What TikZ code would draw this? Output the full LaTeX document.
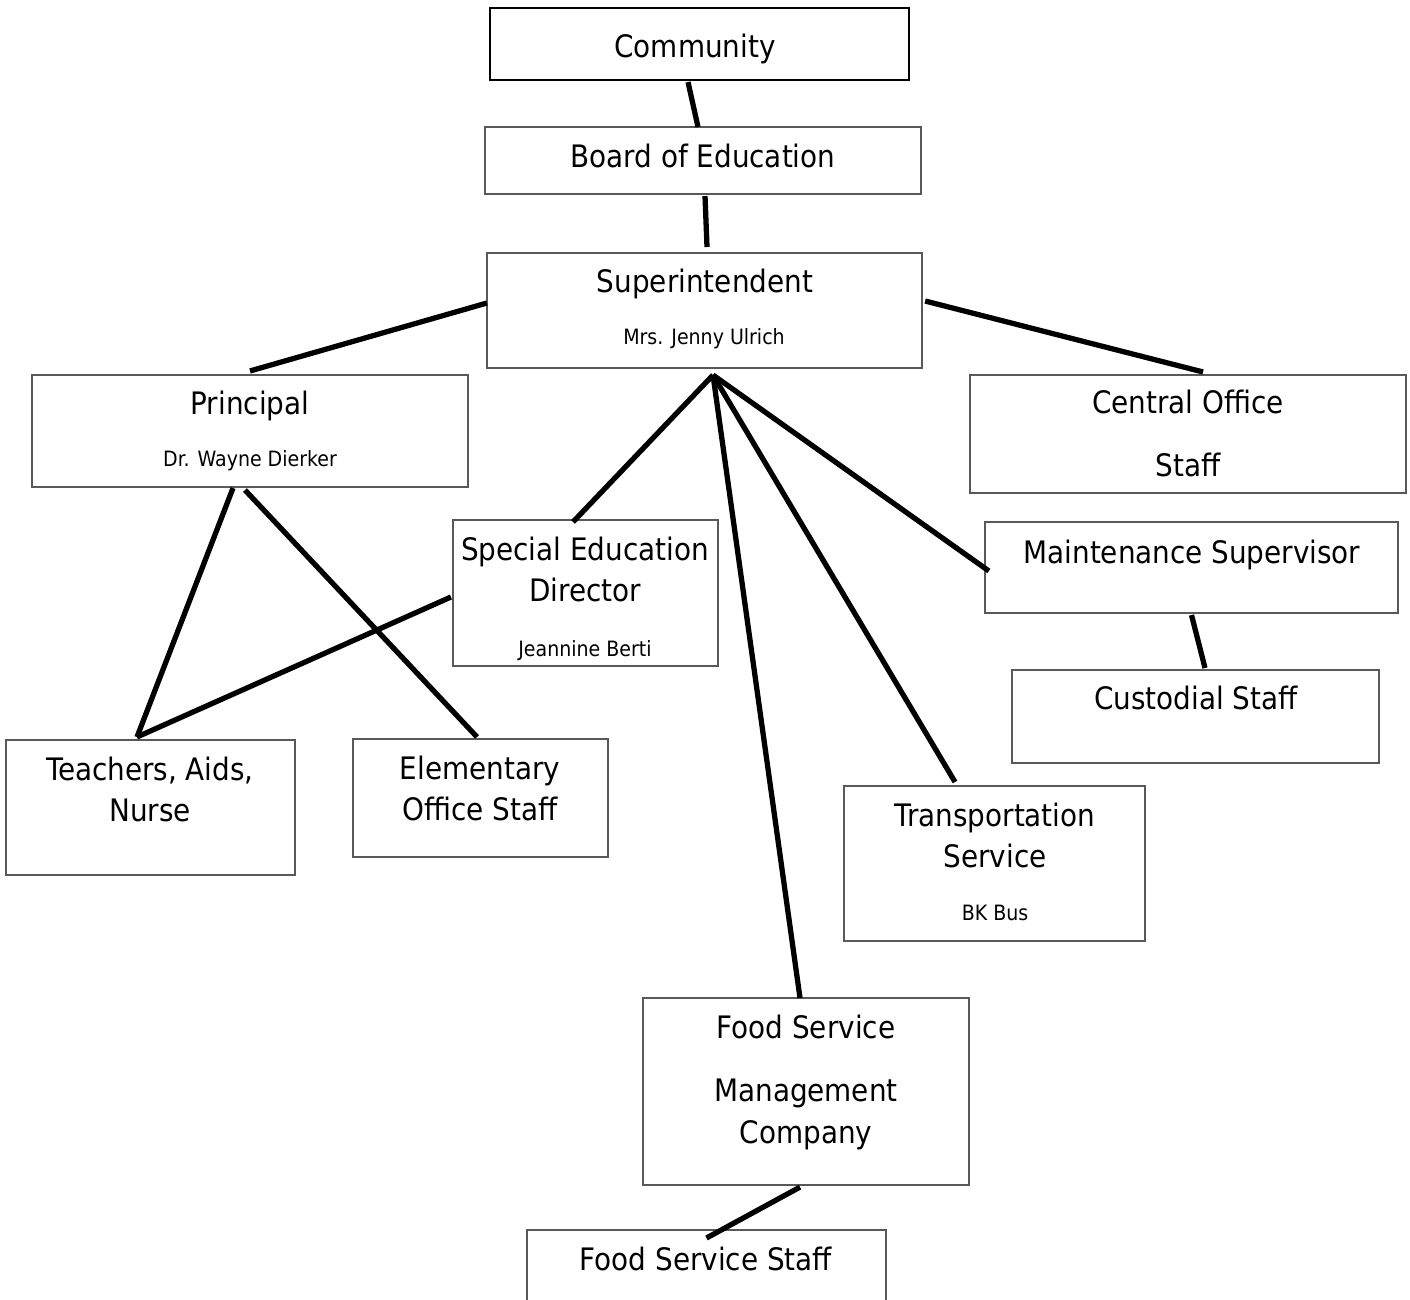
\documentclass[tikz,border=0pt]{standalone}
\usepackage{fontspec}
\setmainfont{DejaVu Sans Condensed}
\usetikzlibrary{calc}
\begin{document}
\begin{tikzpicture}[x=0.01cm,y=-0.01cm,
    box/.style={draw=black!65, line width=0.4pt, rectangle, inner sep=0pt, outer sep=0pt},
    link/.style={line width=1.5pt, line cap=butt},
    big/.style={anchor=base, inner sep=0pt, font=\fontsize{8.8}{10}\selectfont},
    small/.style={anchor=base, inner sep=0pt, font=\fontsize{6}{7}\selectfont}]
    \useasboundingbox (0,0) rectangle (1410,1299);
    % boxes
    \node [box, draw=black, line width=0.7pt, minimum width=4.19cm, minimum height=0.72cm] (comm) at (699.5,44) {};
    \node [box, minimum width=4.36cm, minimum height=0.67cm] (board) at (703,160.5) {};
    \node [box, minimum width=4.35cm, minimum height=1.15cm] (sup) at (704.5,310.5) {};
    \node [box, minimum width=4.36cm, minimum height=1.12cm] (prin) at (250,431) {};
    \node [box, minimum width=4.36cm, minimum height=1.18cm] (cos) at (1188,434) {};
    \node [box, minimum width=2.65cm, minimum height=1.46cm] (sped) at (585.5,593) {};
    \node [box, minimum width=4.13cm, minimum height=0.91cm] (maint) at (1191.5,567.5) {};
    \node [box, minimum width=3.67cm, minimum height=0.93cm] (cust) at (1195.5,716.5) {};
    \node [box, minimum width=2.89cm, minimum height=1.35cm] (teach) at (150.5,807.5) {};
    \node [box, minimum width=2.55cm, minimum height=1.18cm] (elem) at (480.5,798) {};
    \node [box, minimum width=3.01cm, minimum height=1.55cm] (trans) at (994.5,863.5) {};
    \node [box, minimum width=3.26cm, minimum height=1.87cm] (fsm) at (806,1091.5) {};
    \node [box, minimum width=3.59cm, minimum height=0.80cm] (fss) at (706.5,1270) {};
    % texts
    \node [big] (commT) at (695,57) {Community};
    \node [big] (boardT) at (703,167) {Board of Education};
    \node [big] (supT) at (705,292) {Superintendent};
    \node [small] (supN) at (704,344) {Mrs. Jenny Ulrich};
    \node [big] (prinT) at (250,414) {Principal};
    \node [small] (prinN) at (250,466) {Dr. Wayne Dierker};
    \node [big] (cosT) at (1188,413) {Central Office};
    \node [big] (cosT2) at (1188,476) {Staff};
    \node [big] (spedT) at (585,560) {Special Education};
    \node [big] (spedT2) at (585,601) {Director};
    \node [small] (spedN) at (585,656) {Jeannine Berti};
    \node [big] (maintT) at (1192,563) {Maintenance Supervisor};
    \node [big] (custT) at (1196,709) {Custodial Staff};
    \node [big] (teachT) at (150,780) {Teachers, Aids,};
    \node [big] (teachT2) at (150,821) {Nurse};
    \node [big] (elemT) at (480,779) {Elementary};
    \node [big] (elemT2) at (480,820) {Office Staff};
    \node [big] (transT) at (995,826) {Transportation};
    \node [big] (transT2) at (995,867) {Service};
    \node [small] (transN) at (995,920) {BK Bus};
    \node [big] (fsmT) at (806,1038) {Food Service};
    \node [big] (fsmT2) at (806,1101) {Management};
    \node [big] (fsmT3) at (806,1143) {Company};
    \node [big] (fssT) at (706,1270) {Food Service Staff};
    % connectors
    \coordinate (hub) at ($(sup.south)+(8.5,7)$);
    \draw [link] ($(comm.south)+(-11.5,2)$) -- ($(board.north)+(-5,0)$);
    \draw [link] ($(board.south)+(2,2)$) -- ($(sup.north)+(2.5,-6)$);
    \draw [link] ($(sup.west)+(0,-7.5)$) -- ($(prin.north)+(0,-4)$);
    \draw [link] ($(sup.east)+(3,-9.5)$) -- ($(cos.north)+(15,-3)$);
    \draw [link] (hub) -- ($(sped.north)+(-12.5,2)$);
    \draw [link] (hub) -- ($(fsm.north)+(-6,0)$);
    \draw [link] (hub) -- ($(trans.north)+(-39.5,-4)$);
    \draw [link] (hub) -- ($(maint.west)+(4,3.5)$);
    \draw [link] ($(prin.south)+(-17,1)$) -- ($(teach.north)+(-13.5,-3)$);
    \draw [link] ($(prin.south)+(-5,3)$) -- ($(elem.north)+(-3.5,-2)$);
    \draw [link] ($(sped.west)+(-2,4)$) -- ($(teach.north)+(-13.5,-3)$);
    \draw [link] ($(maint.south)+(0,2)$) -- ($(cust.north)+(9.5,-2)$);
    \draw [link] ($(fsm.south)+(-6,2)$) -- ($(fss.north)+(0,8)$);
\end{tikzpicture}
\end{document}
